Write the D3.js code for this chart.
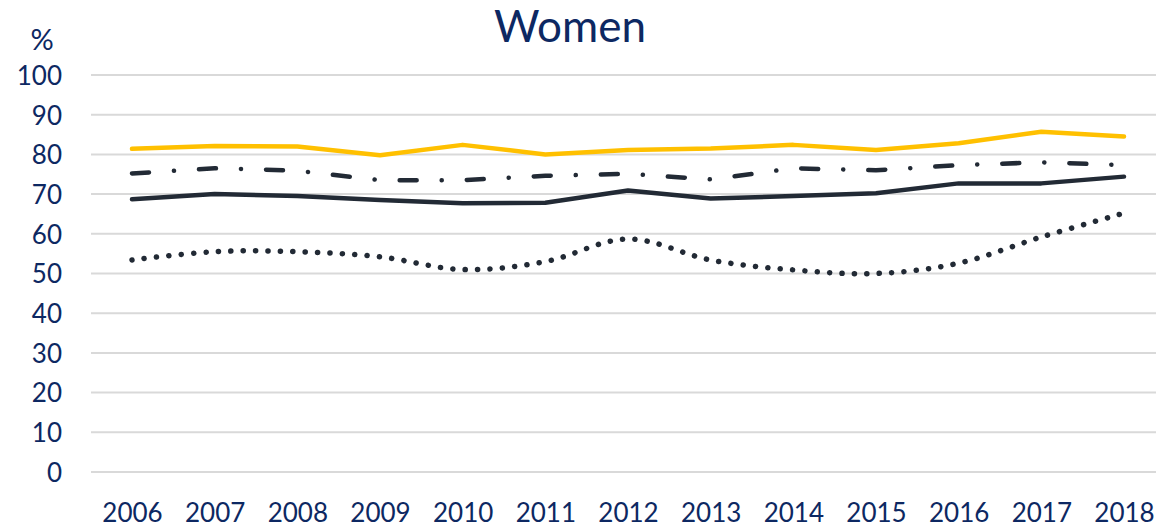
<!DOCTYPE html>
<html>
<head>
<meta charset="utf-8">
<script src="https://cdn.jsdelivr.net/npm/d3@7"></script>
<style>
  body { margin: 0; background: #fff; }
  text { font-family: Lato, "Open Sans", sans-serif; fill: #0d2862; }
</style>
</head>
<body>
<script>
// ---- data ----
var years = ["2006","2007","2008","2009","2010","2011","2012","2013","2014","2015","2016","2017","2018"];
var yTicks = [0, 10, 20, 30, 40, 50, 60, 70, 80, 90, 100];

var yellowSeries  = [81.4, 82.1, 82.0, 79.8, 82.4, 80.0, 81.1, 81.5, 82.4, 81.1, 82.8, 85.7, 84.5];
var dashDotSeries = [75.2, 76.5, 75.9, 73.5, 73.5, 74.6, 75.1, 73.7, 76.5, 76.0, 77.3, 78.0, 77.3];
var solidSeries   = [68.7, 70.0, 69.5, 68.5, 67.7, 67.8, 70.9, 68.9, 69.5, 70.2, 72.7, 72.7, 74.4];
var dottedSeries  = [53.4, 55.5, 55.5, 54.2, 51.0, 53.0, 58.7, 53.4, 50.9, 50.0, 52.6, 59.2, 65.2];

// ---- sizes ----
var W = 1158, H = 527;
var gridLeft = 91, gridRight = 1156;
var dark = "#222a35", yellow = "#ffc000";

var svg = d3.select("body").append("svg")
    .attr("width", W)
    .attr("height", H);

var x = d3.scalePoint().domain(years).range([132, 1124]);
var y = d3.scaleLinear().domain([0, 100]).range([472, 75]);

// gridlines
svg.append("g")
    .selectAll("line")
    .data(yTicks)
    .enter().append("line")
    .attr("x1", gridLeft)
    .attr("x2", gridRight)
    .attr("y1", function(d) { return y(d); })
    .attr("y2", function(d) { return y(d); })
    .attr("stroke", "#d9d9d9")
    .attr("stroke-width", 2);

// y axis labels
var yAxis = svg.append("g")
    .attr("transform", "translate(62,0)")
    .call(d3.axisLeft(y).tickValues(yTicks).tickSize(0).tickPadding(0));
yAxis.select(".domain").remove();
yAxis.selectAll("text")
    .attr("font-size", 26)
    .attr("dy", "0.36em")
    .attr("fill", null);

// x axis labels
var xAxis = svg.append("g")
    .attr("transform", "translate(0,504)")
    .call(d3.axisBottom(x).tickSize(0).tickPadding(0));
xAxis.select(".domain").remove();
xAxis.selectAll("text")
    .attr("font-size", 26)
    .attr("dy", "0.7em")
    .attr("fill", null);

// lines
var straight = d3.line()
    .x(function(d, i) { return x(years[i]); })
    .y(function(d) { return y(d); });

var smooth = d3.line()
    .x(function(d, i) { return x(years[i]); })
    .y(function(d) { return y(d); })
    .curve(d3.curveCatmullRom.alpha(0));

svg.append("path")
    .attr("d", straight(solidSeries))
    .attr("fill", "none")
    .attr("stroke", dark)
    .attr("stroke-width", 4.5)
    .attr("stroke-linejoin", "round")
    .attr("stroke-linecap", "round");

svg.append("path")
    .attr("d", straight(dashDotSeries))
    .attr("fill", "none")
    .attr("stroke", dark)
    .attr("stroke-width", 4.5)
    .attr("stroke-linecap", "round")
    .attr("stroke-dasharray", "17,25,0.1,25");

svg.append("path")
    .attr("d", smooth(dottedSeries))
    .attr("fill", "none")
    .attr("stroke", dark)
    .attr("stroke-width", 5.5)
    .attr("stroke-linecap", "round")
    .attr("stroke-dasharray", "0.1,12.3");

svg.append("path")
    .attr("d", straight(yellowSeries))
    .attr("fill", "none")
    .attr("stroke", yellow)
    .attr("stroke-width", 4.5)
    .attr("stroke-linejoin", "round")
    .attr("stroke-linecap", "round");

// title and unit
svg.append("text")
    .attr("x", 570)
    .attr("y", 42)
    .attr("text-anchor", "middle")
    .attr("font-size", 44)
    .text("Women");

svg.append("text")
    .attr("x", 42)
    .attr("y", 50)
    .attr("text-anchor", "middle")
    .attr("font-size", 29)
    .text("%");
</script>
</body>
</html>
